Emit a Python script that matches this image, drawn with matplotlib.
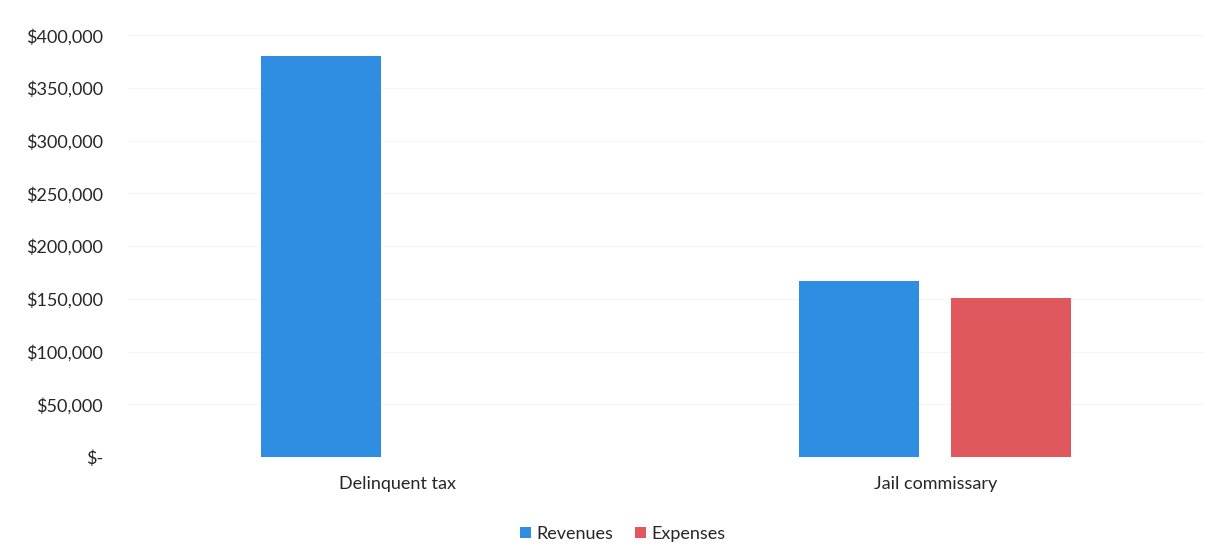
import numpy as np
import matplotlib.pyplot as plt
from matplotlib.ticker import FuncFormatter

categories = ['Delinquent tax', 'Jail commissary']
revenues = [380000, 167000]
expenses = [0, 151000]

plt.rcParams['font.family'] = ['Lato', 'DejaVu Sans']

fig = plt.figure(figsize=(12.25, 5.5), dpi=100)
ax = fig.add_axes([0.1045, 0.169, 0.8785, 0.767])

x = np.arange(len(categories))
w = 0.223
off = 0.141
ax.bar(x - off, revenues, w, color='#2F8DE2', label='Revenues')
ax.bar(x + off, expenses, w, color='#E0585E', label='Expenses')

ax.set_xlim(-0.5, 1.5)
ax.set_ylim(0, 400000)
ax.set_yticks(np.arange(0, 400001, 50000))


def money(v, pos):
    if v == 0:
        return '$-'
    return '${:,.0f}'.format(v)


ax.yaxis.set_major_formatter(FuncFormatter(money))
ax.set_xticks(x)
ax.set_xticklabels(categories)
ax.tick_params(length=0, labelsize=13, colors='#262626')
ax.tick_params(axis='y', pad=18)
ax.tick_params(axis='x', pad=14)
for s in ax.spines.values():
    s.set_visible(False)
ax.yaxis.grid(True, color='#f5f5f5', linewidth=0.8)
ax.set_axisbelow(True)

ax.legend(loc='upper center', bbox_to_anchor=(0.46, -0.125), ncol=2, frameon=False,
          fontsize=13, handlelength=0.6, handleheight=0.6, handletextpad=0.3,
          columnspacing=1.2, labelcolor='#262626')

fig.savefig('out.png', dpi=100)
